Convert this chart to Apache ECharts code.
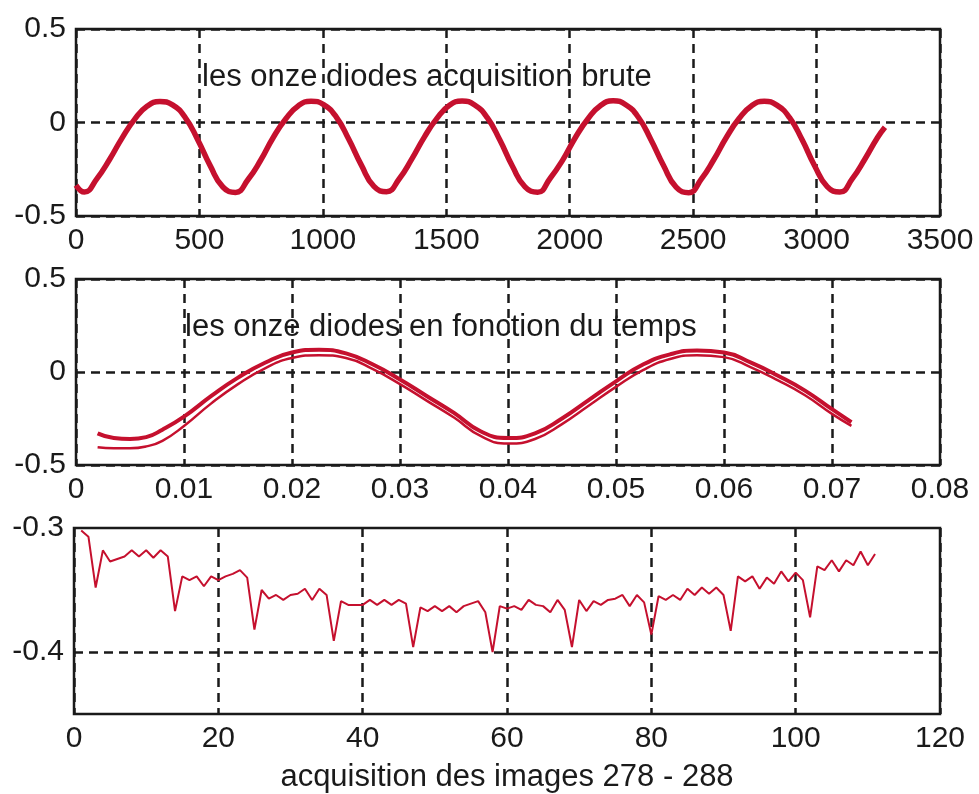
<!DOCTYPE html>
<html>
<head>
<meta charset="UTF-8">
<title>les onze diodes</title>
<style type="text/css">
  html,body{margin:0px;height:100%;width:100%;background:#fff}
  #main{width:979px;height:794px}
</style>
<script type="text/javascript" src="https://cdn.jsdelivr.net/npm/echarts@6/dist/echarts.min.js"></script>
</head>
<body>
<div id="main"></div>
<script>
  // plot 1 : raw acquisition, sample index vs signal
  var brutX = [0, 34, 85, 136, 187, 238, 289, 340, 391, 442, 493, 544, 595,
    646, 697, 748, 799, 850, 901, 952, 1003, 1054, 1105, 1156, 1207,
    1258, 1309, 1360, 1411, 1462, 1513, 1564, 1615, 1666, 1717, 1768, 1819,
    1870, 1921, 1972, 2023, 2074, 2125, 2176, 2227, 2278, 2329, 2380, 2431,
    2482, 2533, 2584, 2635, 2686, 2737, 2788, 2839, 2890, 2941, 2992, 3043,
    3094, 3145, 3196, 3247, 3277];
  var brutY = [-0.335,
    -0.372, -0.300, -0.198, -0.082, 0.018, 0.088, 0.112, 0.094, 0.028, -0.092, -0.232, -0.345,
    -0.374, -0.305, -0.202, -0.080, 0.020, 0.090, 0.114, 0.096, 0.030, -0.090, -0.228, -0.342,
    -0.370, -0.302, -0.196, -0.078, 0.022, 0.092, 0.115, 0.094, 0.026, -0.094, -0.234, -0.344,
    -0.373, -0.298, -0.200, -0.080, 0.020, 0.091, 0.116, 0.095, 0.028, -0.092, -0.230, -0.346,
    -0.375, -0.303, -0.198, -0.079, 0.021, 0.090, 0.114, 0.093, 0.027, -0.091, -0.231, -0.343,
    -0.372, -0.300, -0.195, -0.080, -0.025];

  // plot 2 : the diodes against time (s)
  var tempsX = [0.002, 0.0035, 0.005, 0.0065, 0.008, 0.01, 0.0125, 0.015, 0.0175, 0.02,
    0.0225, 0.025, 0.0275, 0.03, 0.0325, 0.035, 0.0375, 0.04, 0.0425, 0.045,
    0.0475, 0.05, 0.0525, 0.055, 0.0575, 0.06, 0.0625, 0.065, 0.0675, 0.07, 0.0718];
  var diodeHaut = [-0.33, -0.355, -0.36, -0.35, -0.31, -0.24, -0.13, -0.03, 0.05, 0.105,
    0.12, 0.10, 0.04, -0.04, -0.13, -0.22, -0.32, -0.355, -0.33, -0.25,
    -0.15, -0.05, 0.04, 0.095, 0.115, 0.105, 0.05, -0.02, -0.10, -0.20, -0.27];
  var diodeBas = [-0.405, -0.41, -0.41, -0.40, -0.37, -0.29, -0.17, -0.065, 0.02, 0.075,
    0.09, 0.075, 0.015, -0.065, -0.155, -0.245, -0.345, -0.385, -0.36, -0.28,
    -0.18, -0.08, 0.01, 0.07, 0.09, 0.08, 0.025, -0.045, -0.125, -0.225, -0.29];

  // plot 3 : one value per acquisition, images 278 - 288
  var acqY = [-0.302, -0.307, -0.348, -0.318, -0.327, -0.325, -0.323, -0.318, -0.323, -0.318,
    -0.324, -0.318, -0.323, -0.367, -0.339, -0.342, -0.339, -0.347, -0.339, -0.342,
    -0.339, -0.337, -0.334, -0.340, -0.382, -0.350, -0.357, -0.354, -0.358, -0.354,
    -0.353, -0.349, -0.358, -0.349, -0.354, -0.391, -0.359, -0.362, -0.362, -0.362,
    -0.358, -0.362, -0.358, -0.362, -0.358, -0.361, -0.396, -0.364, -0.367, -0.363,
    -0.367, -0.363, -0.368, -0.363, -0.361, -0.359, -0.368, -0.400, -0.363, -0.365,
    -0.363, -0.366, -0.358, -0.362, -0.363, -0.368, -0.358, -0.366, -0.396, -0.358,
    -0.367, -0.359, -0.362, -0.358, -0.357, -0.354, -0.363, -0.354, -0.360, -0.386,
    -0.355, -0.358, -0.354, -0.358, -0.349, -0.354, -0.348, -0.353, -0.348, -0.354,
    -0.383, -0.339, -0.343, -0.339, -0.349, -0.340, -0.345, -0.335, -0.343, -0.336,
    -0.342, -0.372, -0.331, -0.334, -0.326, -0.335, -0.326, -0.330, -0.319, -0.330,
    -0.321];

  var titres = ['les onze diodes acquisition brute', 'les onze diodes en fonction du temps'];
  var nomAxe = 'acquisition des images 278 - 288';

  function pairs(xs, ys) {
    return xs.map(function (x, i) { return [x, ys[i]]; });
  }

  var rouge = '#c5102e';
  var police = 'Liberation Sans, Arial, sans-serif';
  var txt = { color: '#1a1a1a', fontSize: 30, fontFamily: police };
  var tirets = { color: '#1a1a1a', width: 2.5, type: [9, 6] };

  function plain(v) { return String(+v.toFixed(2)); }

  function gridBox(left, top, width, height) {
    return { left: left, top: top, width: width, height: height, show: true,
      borderColor: '#1a1a1a', borderWidth: 2.5, backgroundColor: '#fff' };
  }

  function axeX(idx, min, max, step) {
    return {
      gridIndex: idx, type: 'value', min: min, max: max, interval: step,
      axisLine: { show: false }, axisTick: { show: false },
      axisLabel: Object.assign({ margin: 10, formatter: plain }, txt),
      splitLine: { show: true, lineStyle: tirets }
    };
  }

  function axeY(idx, min, max, step, fmt) {
    return {
      gridIndex: idx, type: 'value', min: min, max: max, interval: step,
      axisLine: { show: false }, axisTick: { show: false },
      axisLabel: Object.assign({ margin: 10, formatter: fmt || plain }, txt),
      splitLine: { show: idx < 2, lineStyle: tirets }
    };
  }

  var chart = echarts.init(document.getElementById('main'), null, { renderer: 'canvas' });

  var option = {
    animation: false,
    title: [
      { text: titres[0], left: 197, top: 57,
        textStyle: { fontSize: 31, fontWeight: 'normal', color: '#1a1a1a', fontFamily: police } },
      { text: titres[1], left: 180, top: 307,
        textStyle: { fontSize: 31, fontWeight: 'normal', color: '#1a1a1a', fontFamily: police } }
    ],
    grid: [
      gridBox(76, 29, 864, 187),
      gridBox(76, 279, 864, 186),
      gridBox(74, 528, 866, 186)
    ],
    xAxis: [
      axeX(0, 0, 3500, 500),
      axeX(1, 0, 0.08, 0.01),
      Object.assign(axeX(2, 0, 120, 20), {
        name: nomAxe, nameLocation: 'middle', nameGap: 48,
        nameTextStyle: { fontSize: 31, color: '#1a1a1a', fontFamily: police }
      })
    ],
    yAxis: [
      axeY(0, -0.5, 0.5, 0.5),
      axeY(1, -0.5, 0.5, 0.5),
      axeY(2, -0.45, -0.3, 0.05, function (v) {
        if (Math.abs(v + 0.3) < 1e-6) return '-0.3';
        if (Math.abs(v + 0.4) < 1e-6) return '-0.4';
        return '';
      })
    ],
    series: [
      { name: 'brute', type: 'line', xAxisIndex: 0, yAxisIndex: 0, smooth: true,
        showSymbol: false, data: pairs(brutX, brutY),
        lineStyle: { color: rouge, width: 5.5 } },
      { name: 'diode haut', type: 'line', xAxisIndex: 1, yAxisIndex: 1, smooth: true,
        showSymbol: false, data: pairs(tempsX, diodeHaut),
        lineStyle: { color: rouge, width: 4 } },
      { name: 'diode bas', type: 'line', xAxisIndex: 1, yAxisIndex: 1, smooth: true,
        showSymbol: false, data: pairs(tempsX, diodeBas),
        lineStyle: { color: rouge, width: 2.5 } },
      { name: 'acquisition', type: 'line', xAxisIndex: 2, yAxisIndex: 2,
        showSymbol: false, data: acqY.map(function (v, i) { return [i + 1, v]; }),
        lineStyle: { color: rouge, width: 2 },
        markLine: { silent: true, symbol: 'none', label: { show: false },
          lineStyle: tirets, data: [{ yAxis: -0.4 }] } }
    ]
  };

  chart.setOption(option);
</script>
</body>
</html>
